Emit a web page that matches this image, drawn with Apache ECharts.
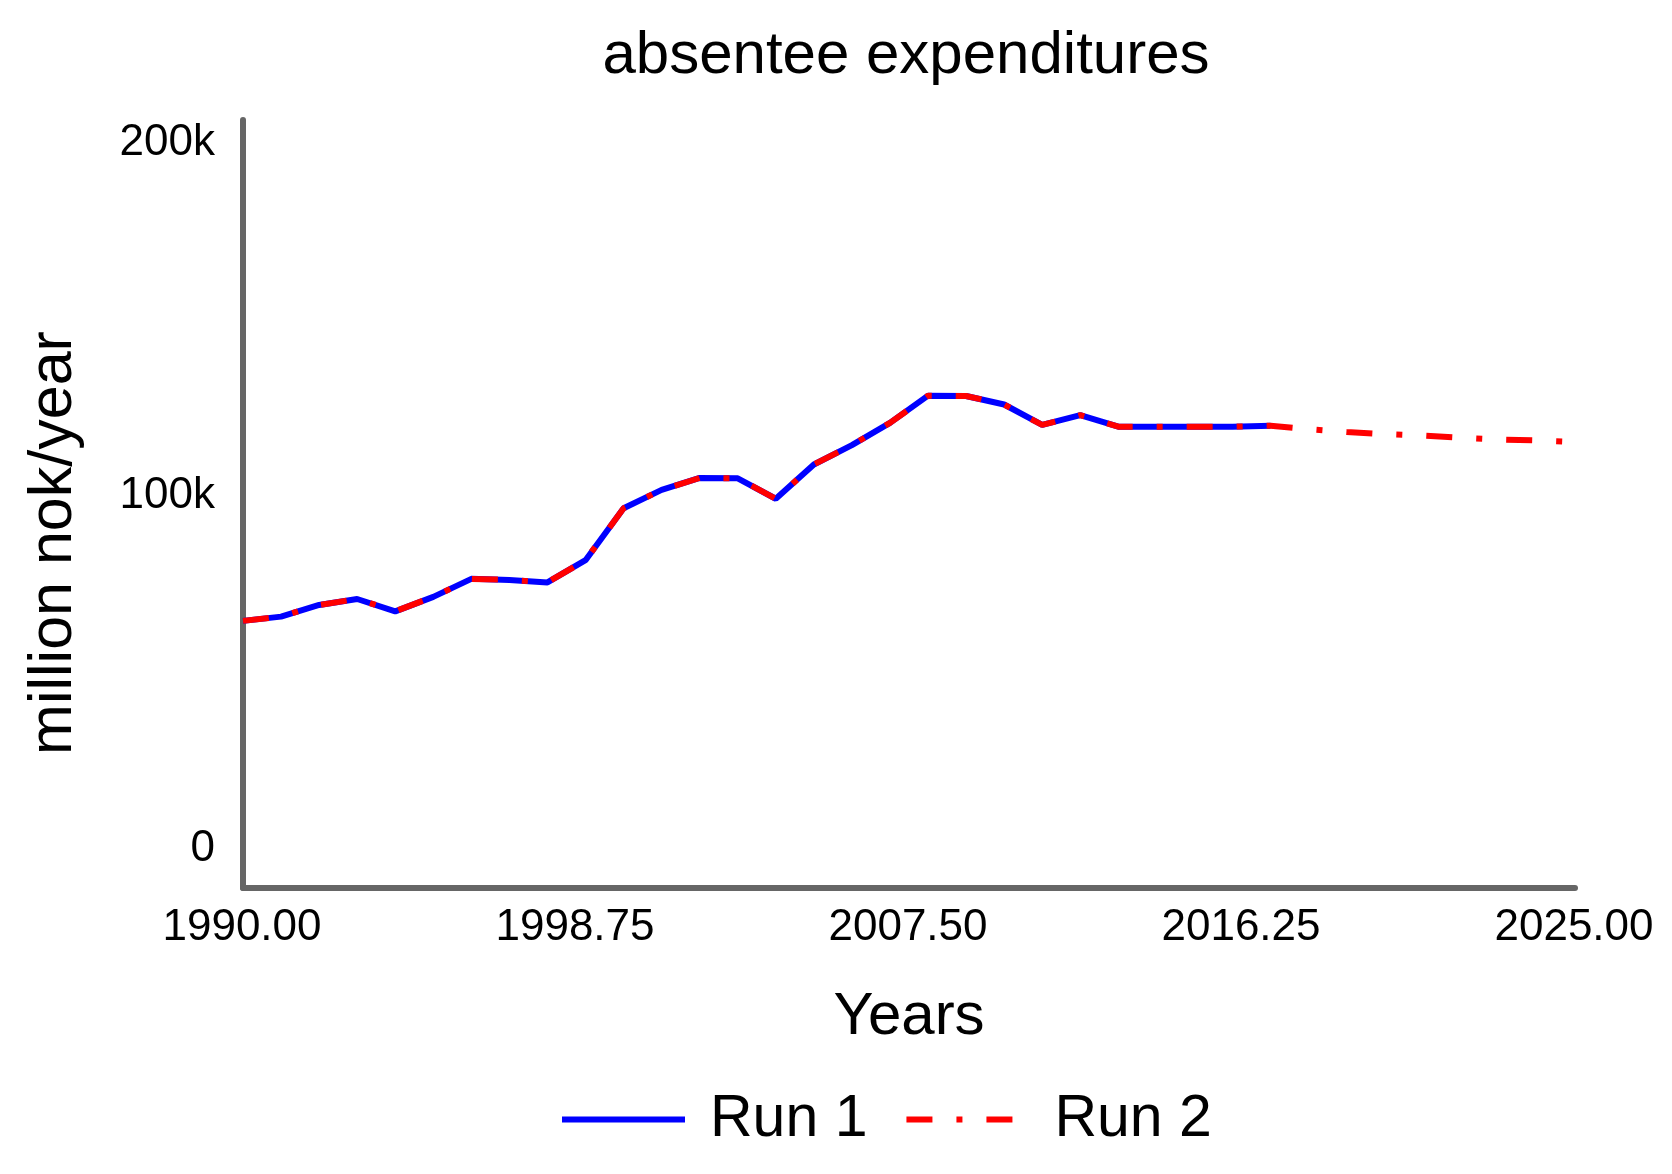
<!DOCTYPE html>
<html>
<head>
<meta charset="utf-8">
<script src="https://cdn.jsdelivr.net/npm/echarts@6/dist/echarts.min.js"></script>
<style>html,body{margin:0;padding:0;background:#fff}#c{width:1672px;height:1174px}</style>
</head>
<body>
<div id="c"></div>
<script>
const titleText = 'absentee expenditures';
const xAxisName = 'Years';
const yAxisName = 'million nok/year';
const xTickValues = [1990, 1998.75, 2007.5, 2016.25, 2025];
const yTickValues = [0, 100000, 200000];

const run1Years = [1990,1991,1992,1993,1994,1995,1996,1997,1998,1999,2000,2001,2002,2003,2004,2005,2006,2007,2008,2009,2010,2011,2012,2013,2014,2015,2016,2017];
const run1Values = [63500,64700,68000,69700,66200,70300,75400,75100,74400,80700,95400,100600,104000,103900,98100,107800,113300,119600,127300,127200,124800,119000,121800,118500,118500,118500,118500,118800];

const run2Years = [1990,1991,1992,1993,1994,1995,1996,1997,1998,1999,2000,2001,2002,2003,2004,2005,2006,2007,2008,2009,2010,2011,2012,2013,2014,2015,2016,2017,2018,2019,2020,2021,2022,2023,2024,2025];
const run2Values = [63500,64700,68000,69700,66200,70300,75400,75100,74400,80700,95400,100600,104000,103900,98100,107800,113300,119600,127300,127200,124800,119000,121800,118500,118500,118500,118500,118800,117800,117000,116400,116000,115400,114900,114600,114200];

const FONT = '"Liberation Sans", Arial, sans-serif';
const chart = echarts.init(document.getElementById('c'), null, {renderer: 'canvas'});
chart.setOption({
  backgroundColor: '#ffffff',
  animation: false,
  title: {
    text: titleText,
    left: 906,
    textAlign: 'center',
    top: 25,
    padding: 0,
    textStyle: {fontFamily: FONT, fontSize: 60, fontWeight: 'normal', color: '#000', lineHeight: 62}
  },
  legend: {
    left: 559,
    top: 1090,
    padding: 0,
    itemWidth: 123,
    itemHeight: 14,
    itemGap: 36,
    lineStyle: {width: 6},
    itemStyle: {opacity: 0},
    textStyle: {fontFamily: FONT, fontSize: 59, color: '#000', padding: [0, 0, 0, 20]},
    data: ['Run 1', 'Run 2']
  },
  grid: {left: 243, right: 97, top: 120, bottom: 286, containLabel: false},
  xAxis: {
    type: 'value',
    min: 1990,
    max: 2025,
    name: xAxisName,
    nameLocation: 'middle',
    nameGap: 99,
    nameTextStyle: {fontFamily: FONT, fontSize: 60, color: '#000'},
    axisLine: {show: true, onZero: false, lineStyle: {color: '#666666', width: 6}},
    axisTick: {show: false},
    splitLine: {show: false},
    axisLabel: {
      customValues: xTickValues,
      margin: 18,
      padding: [0, 2, 0, 0],
      fontFamily: FONT, fontSize: 44, color: '#000',
      formatter: v => Number(v).toFixed(2)
    }
  },
  yAxis: {
    type: 'value',
    min: -12180,
    max: 205400,
    name: yAxisName,
    nameLocation: 'middle',
    nameGap: 158,
    nameRotate: 90,
    nameTextStyle: {fontFamily: FONT, fontSize: 61, color: '#000', padding: [0, 78, 0, 0]},
    axisLine: {show: true, onZero: false, lineStyle: {color: '#666666', width: 6}},
    axisTick: {show: false},
    splitLine: {show: false},
    axisLabel: {
      customValues: yTickValues,
      margin: 28,
      verticalAlign: 'top',
      lineHeight: 8,
      fontFamily: FONT, fontSize: 44, color: '#000',
      formatter: v => v === 0 ? '0' : (v / 1000) + 'k'
    }
  },
  series: [
    {
      name: 'Run 1',
      type: 'line',
      data: run1Years.map((y, i) => [y, run1Values[i]]),
      symbol: 'none',
      lineStyle: {color: '#0000ff', width: 6, type: 'solid'},
      itemStyle: {color: '#0000ff'}
    },
    {
      name: 'Run 2',
      type: 'line',
      data: run2Years.map((y, i) => [y, run2Values[i]]),
      symbol: 'none',
      lineStyle: {color: '#ff0000', width: 6, type: [26, 24, 6, 24], cap: 'butt'},
      itemStyle: {color: '#ff0000'}
    }
  ]
});
</script>
</body>
</html>
